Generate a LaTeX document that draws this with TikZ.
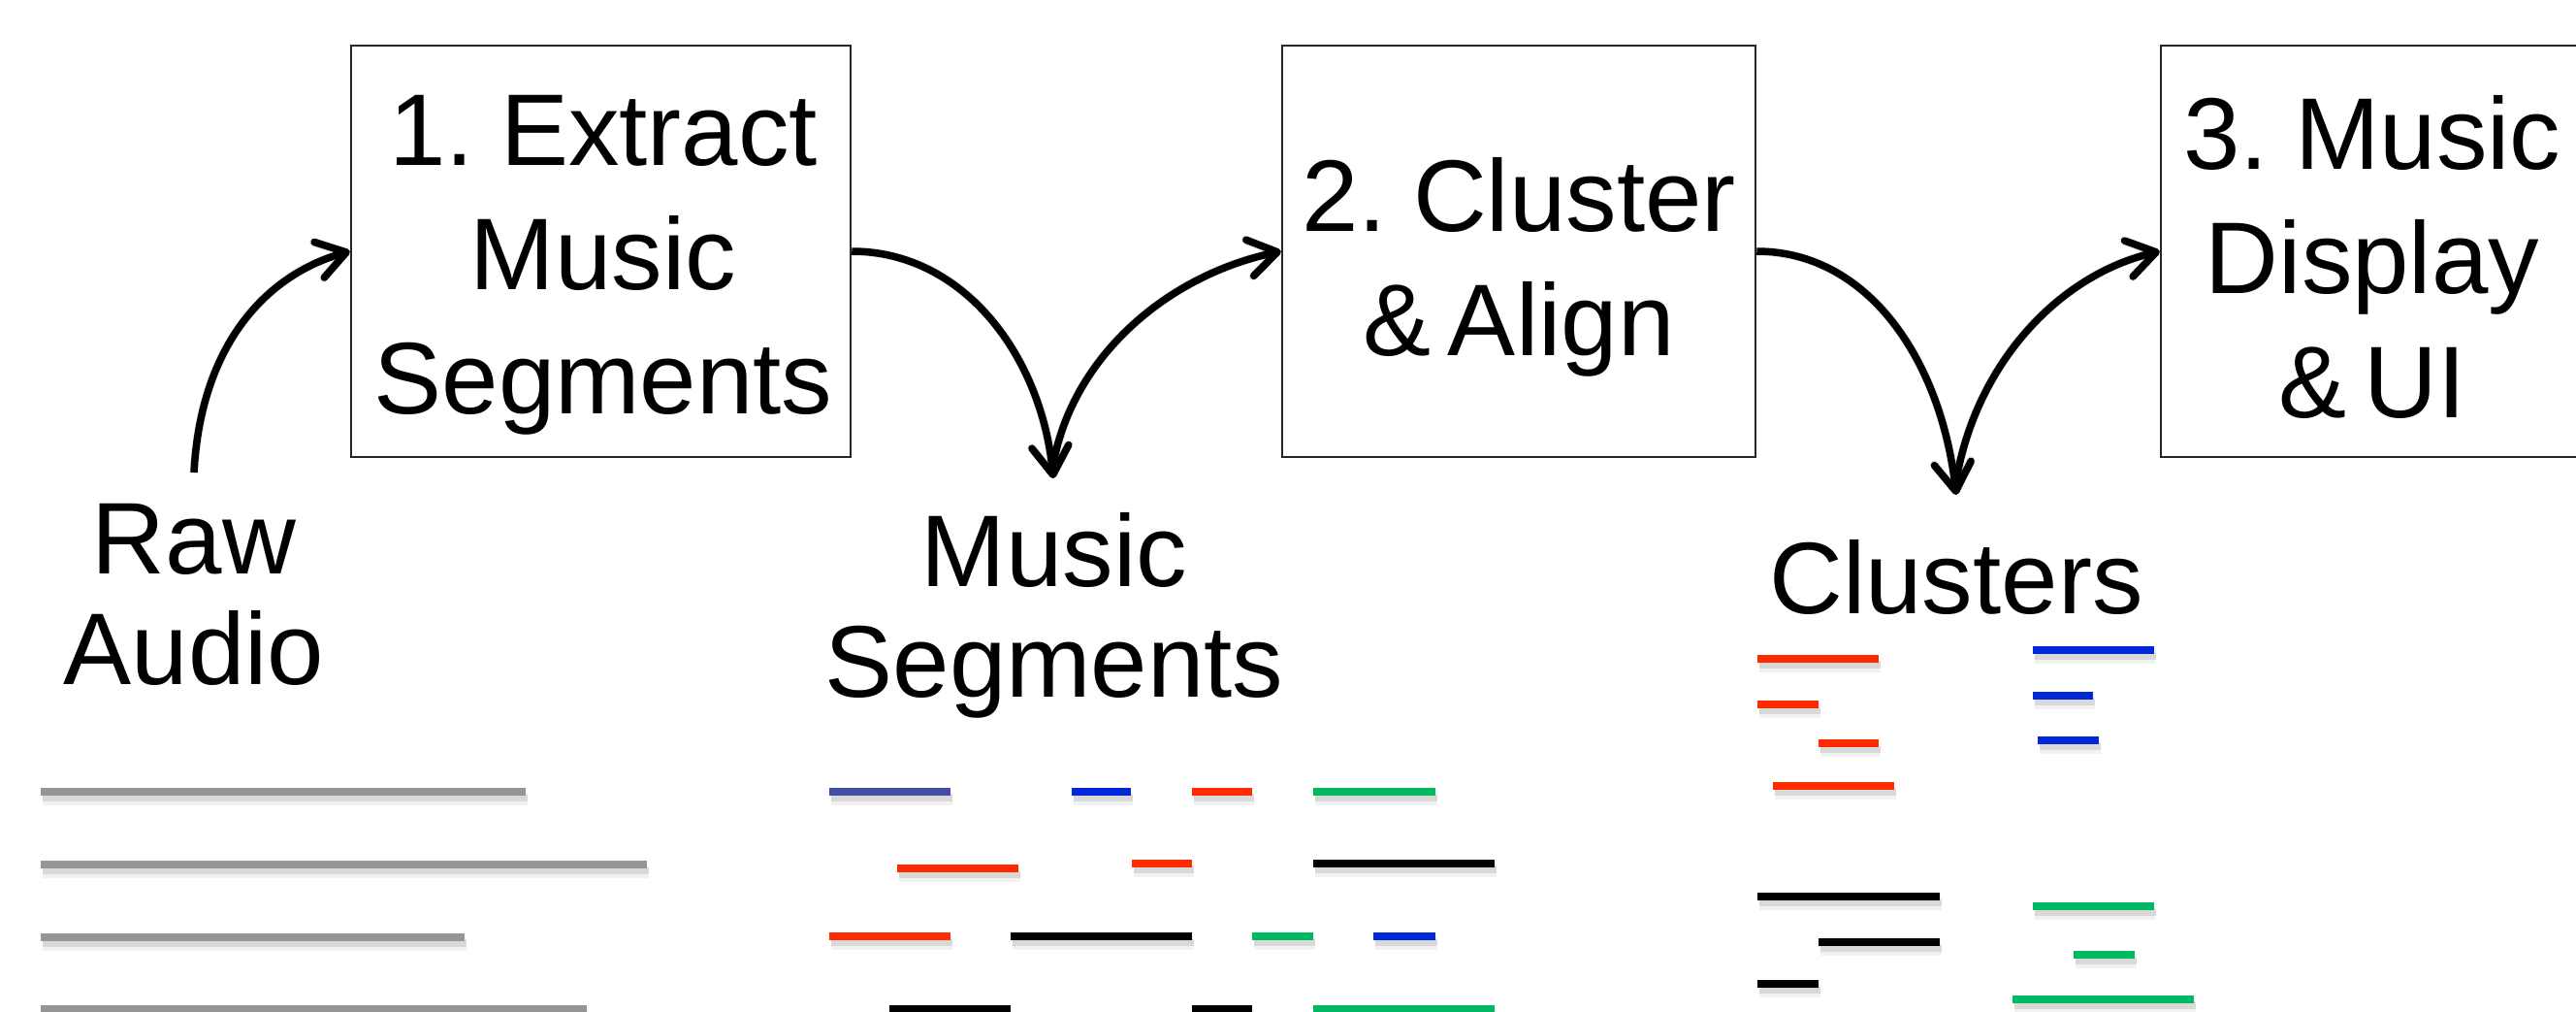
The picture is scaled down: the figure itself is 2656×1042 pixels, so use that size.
\documentclass[tikz,border=0pt]{standalone}
\usepackage{fontspec}
\setmainfont[WordSpace=0.6]{Liberation Sans}
\usetikzlibrary{arrows.meta}
\definecolor{rawgray}{RGB}{149,149,149}
\definecolor{segpurple}{RGB}{68,76,170}
\definecolor{segblue}{RGB}{0,40,216}
\definecolor{segred}{RGB}{255,42,0}
\definecolor{seggreen}{RGB}{0,184,98}
\tikzset{
  box/.style={draw=black!85, line width=2.5pt, inner sep=0pt},
  boxtext/.style={inner sep=0pt, align=center, anchor=north, font=\fontsize{105}{128}\selectfont},
  lbltext/.style={inner sep=0pt, align=center, anchor=north, font=\fontsize{105}{114}\selectfont},
  flow/.style={line width=7.5pt, -{Straight Barb[length=29pt,width=38pt,round]}},
  flowshadow/.style={line width=9pt, black, opacity=0.10, shift={(2,6)}, -{Straight Barb[length=29pt,width=38pt,round]}},
  segline/.style={line width=8pt},
  segshadowa/.style={line width=7pt, black, opacity=0.10},
  segshadowb/.style={line width=13pt, black, opacity=0.05},
}
\newcommand\mseg[4]{%
  \draw[segshadowb] (#2+2,#4+7) -- (#3+2,#4+7);
  \draw[segshadowa] (#2+2,#4+6) -- (#3+2,#4+6);
  \draw[segline,#1] (#2,#4) -- (#3,#4);
}
\begin{document}
\begin{tikzpicture}[x=1pt,y=-1pt]
\path[use as bounding box] (0,0) rectangle (2656,1042);
\clip (0,0) rectangle (2656,1042);

% process boxes
\node[box, minimum width=515pt, minimum height=424pt] (b1) at (619.5,259) {};
\node[box, minimum width=488pt, minimum height=424pt] (b2) at (1566,259) {};
\node[box, minimum width=436pt, minimum height=424pt] (b3) at (2446,259) {};
\node[boxtext] (t1) at (622,98) {1. Extract\\Music\\Segments};
\node[boxtext] (t2) at (1566,162) {2. Cluster\\\& Align};
\node[boxtext] (t3) at (2446,98) {3. Music\\Display\\\& UI};

% data labels
\node[lbltext] (raw) at (200,519) {Raw\\Audio};
\node[lbltext] (msg) at (1087,528) {Music\\Segments};
\node[lbltext] (clu) at (2017,556) {Clusters};

% connector free ends
\coordinate (ra) at (200,487);
\coordinate (msin) at (1086,493);
\coordinate (msout) at (1086,478);
\coordinate (clin) at (2017,510);
\coordinate (clout) at (2017,495);

% shadows of connectors
\draw[flowshadow] (ra) .. controls +(7,-132) and +(-86,24) .. (b1.west);
\draw[flowshadow] (b1.east) .. controls +(116,0) and +(-12,-125) .. (msin);
\draw[flowshadow] (msout) .. controls +(20,-110) and +(-118,25) .. (b2.west);
\draw[flowshadow] (b2.east) .. controls +(114,0) and +(-16,-140) .. (clin);
\draw[flowshadow] (clout) .. controls +(20,-118) and +(-106,25) .. (b3.west);

% connectors
\draw[flow] (ra) .. controls +(7,-132) and +(-86,24) .. (b1.west);
\draw[flow] (b1.east) .. controls +(116,0) and +(-12,-125) .. (msin);
\draw[flow] (msout) .. controls +(20,-110) and +(-118,25) .. (b2.west);
\draw[flow] (b2.east) .. controls +(114,0) and +(-16,-140) .. (clin);
\draw[flow] (clout) .. controls +(20,-118) and +(-106,25) .. (b3.west);

% raw audio
\mseg{rawgray}{42}{542}{816}
\mseg{rawgray}{42}{667}{891}
\mseg{rawgray}{42}{479}{966}
\mseg{rawgray}{42}{605}{1040}

% music segments
\mseg{segpurple}{855}{980}{816}
\mseg{segblue}{1105}{1166}{816}
\mseg{segred}{1229}{1291}{816}
\mseg{seggreen}{1354}{1480}{816}
\mseg{segred}{925}{1050}{895}
\mseg{segred}{1167}{1229}{890}
\mseg{black}{1354}{1541}{890}
\mseg{segred}{855}{980}{965}
\mseg{black}{1042}{1229}{965}
\mseg{seggreen}{1291}{1354}{965}
\mseg{segblue}{1416}{1480}{965}
\mseg{black}{917}{1042}{1040}
\mseg{black}{1229}{1291}{1040}
\mseg{seggreen}{1354}{1541}{1040}

% clusters
\mseg{segred}{1812}{1937}{679}
\mseg{segred}{1812}{1875}{726}
\mseg{segred}{1875}{1937}{766}
\mseg{segred}{1828}{1953}{810}
\mseg{black}{1812}{2000}{924}
\mseg{black}{1875}{2000}{971}
\mseg{black}{1812}{1875}{1014}
\mseg{segblue}{2096}{2221}{670}
\mseg{segblue}{2096}{2158}{717}
\mseg{segblue}{2101}{2164}{763}
\mseg{seggreen}{2096}{2221}{934}
\mseg{seggreen}{2138}{2201}{984}
\mseg{seggreen}{2075}{2262}{1030}
\end{tikzpicture}
\end{document}
